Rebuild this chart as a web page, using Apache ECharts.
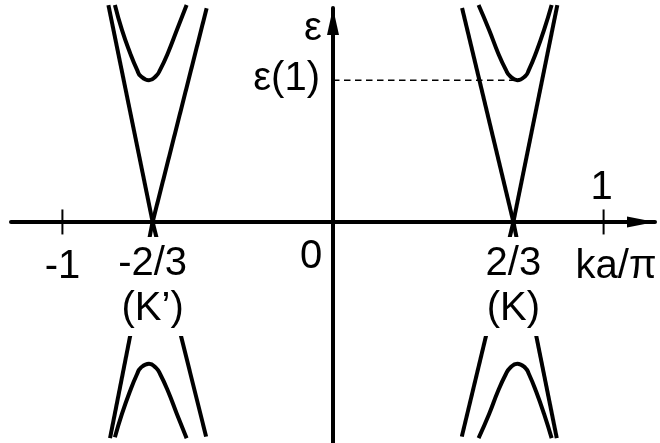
<!DOCTYPE html>
<html>
<head>
<meta charset="utf-8">
<script src="https://cdn.jsdelivr.net/npm/echarts@6/dist/echarts.min.js"></script>
<style>
  html, body { margin: 0; padding: 0; background: #fff; }
  #chart { width: 660px; height: 443px; }
</style>
</head>
<body>
<div id="chart"></div>
<script>
// Axis extents: ka/π horizontally, ε (in units of ε(1)) vertically
const kRange = [-1.19, 1.19];
const eRange = [-1.56, 1.51];
const kAxisTitle = 'ka/π';
const eAxisTitle = 'ε';

// Tick marks on the ka/π axis
const kTicks = [-1, 1];
const kTickLabels = ['-1', '1'];

// Band-crossing points K' and K
const diracK = [-2 / 3, 2 / 3];
const diracLabels = ['-2/3\n(K’)', '2/3\n(K)'];

// Linear bands: far end [k, ε] of each branch leaving the crossing point
const linearEndsKprime = [[-0.830, 1.531], [-0.467, 1.508], [-0.824, -1.526], [-0.469, -1.515]];
const linearEndsK = [[0.477, 1.510], [0.829, 1.531], [0.476, -1.515], [0.827, -1.526]];

// First gapped subbands near K'
const subKprimeK = [-0.806, -0.780, -0.750, -0.724, -0.711, -0.680, -0.654, -0.639, -0.610, -0.577, -0.541];
const subKprimeUpper = [1.531, 1.355, 1.193, 1.073, 1.030, 1.000, 1.030, 1.073, 1.193, 1.355, 1.531];
const subKprimeLower = [-1.519, -1.355, -1.193, -1.073, -1.030, -1.000, -1.030, -1.073, -1.193, -1.355, -1.526];

// First gapped subbands near K
const subKK = [0.538, 0.577, 0.610, 0.639, 0.654, 0.681, 0.711, 0.724, 0.750, 0.780, 0.808];
const subKUpper = [1.531, 1.355, 1.193, 1.073, 1.030, 1.000, 1.030, 1.073, 1.193, 1.355, 1.531];
const subKLower = [-1.526, -1.355, -1.193, -1.073, -1.030, -1.000, -1.030, -1.073, -1.193, -1.355, -1.526];

// Subband edge ε(1) and the k where it is reached
const subbandEdge = 1;
const subbandEdgeK = 0.681;
const subbandLabel = 'ε(1)';
const originLabel = '0';

const FONT = '"Liberation Sans", Arial, Helvetica, sans-serif';
const FS = 40;
const INK = '#000';
const BAND_W = 4;

const zip = (xs, ys) => xs.map((x, i) => [x, ys[i]]);

function bandSeries(data, smooth) {
  return {
    type: 'line',
    data: data,
    smooth: smooth ? 0.5 : false,
    showSymbol: false,
    symbol: 'none',
    clip: false,
    z: 3,
    lineStyle: { color: INK, width: BAND_W, cap: 'butt', opacity: 1 },
    silent: true
  };
}

const series = [];

// Linear bands through K' and K
linearEndsKprime.forEach(p => series.push(bandSeries([[diracK[0], 0], p], false)));
linearEndsK.forEach(p => series.push(bandSeries([[diracK[1], 0], p], false)));

// Gapped subbands
series.push(bandSeries(zip(subKprimeK, subKprimeUpper), true));
series.push(bandSeries(zip(subKprimeK, subKprimeLower), true));
series.push(bandSeries(zip(subKK, subKUpper), true));
series.push(bandSeries(zip(subKK, subKLower), true));

// Dashed guide at ε(1)
series.push({
  type: 'line',
  data: [[0, subbandEdge], [subbandEdgeK, subbandEdge]],
  showSymbol: false,
  symbol: 'none',
  z: 2,
  lineStyle: { color: INK, width: 1.5, type: [6.5, 4.5], opacity: 1 },
  silent: true
});

// Tick marks crossing the ka/π axis
series.push({
  type: 'scatter',
  data: kTicks.map(k => [k, 0]),
  symbol: 'rect',
  symbolSize: [2, 25],
  itemStyle: { color: INK, opacity: 1 },
  z: 4,
  silent: true
});

// Text labels anchored to data coordinates
const textStyle = { show: true, position: 'inside', color: INK, opacity: 1, fontFamily: FONT, fontSize: FS };
const labelItems = [
  { value: [kTicks[0], 0], label: Object.assign({}, textStyle, { formatter: kTickLabels[0], offset: [0, 45] }) },
  { value: [kTicks[1], 0], label: Object.assign({}, textStyle, { formatter: kTickLabels[1], offset: [-2, -34] }) },
  { value: [0, 0], label: Object.assign({}, textStyle, { formatter: originLabel, offset: [-22, 35] }) },
  { value: [0, subbandEdge], label: Object.assign({}, textStyle, { formatter: subbandLabel, align: 'right', offset: [-13, -1] }) },
  { value: [kRange[1], 0], label: Object.assign({}, textStyle, { formatter: kAxisTitle, offset: [-39, 45] }) }
];
// Labels under K' and K sit on opaque boxes that mask the bands behind them
diracK.forEach((k, i) => {
  labelItems.push({
    value: [k, 0],
    label: Object.assign({}, textStyle, {
      formatter: diracLabels[i],
      lineHeight: 45,
      backgroundColor: '#fff',
      padding: [8, 8, 1, 8],
      offset: [0, 64.5]
    })
  });
});
series.push({
  type: 'scatter',
  data: labelItems,
  symbolSize: 0,
  itemStyle: { color: '#fff', opacity: 1 },
  z: 10,
  silent: true
});

const chart = echarts.init(document.getElementById('chart'), null, { renderer: 'canvas' });
chart.setOption({
  backgroundColor: '#fff',
  animation: false,
  grid: { left: 11, right: 5, top: 8, bottom: 0, containLabel: false, outerBoundsMode: 'none' },
  xAxis: {
    type: 'value',
    min: kRange[0],
    max: kRange[1],
    axisLine: {
      onZero: true,
      lineStyle: { color: INK, width: 4 },
      symbol: ['none', 'triangle'],
      symbolSize: [11, 28],
      symbolOffset: [0, -14]
    },
    axisTick: { show: false },
    axisLabel: { show: false },
    splitLine: { show: false }
  },
  yAxis: {
    type: 'value',
    min: eRange[0],
    max: eRange[1],
    name: eAxisTitle,
    nameLocation: 'end',
    nameGap: -21,
    nameMoveOverlap: false,
    nameTextStyle: { color: INK, fontFamily: FONT, fontSize: FS, align: 'center', verticalAlign: 'middle', padding: [0, 40, 0, 0] },
    axisLine: {
      onZero: true,
      lineStyle: { color: INK, width: 4 },
      symbol: ['none', 'triangle'],
      symbolSize: [12, 27],
      symbolOffset: [0, -13.5]
    },
    axisTick: { show: false },
    axisLabel: { show: false },
    splitLine: { show: false }
  },
  series: series
});
</script>
</body>
</html>
